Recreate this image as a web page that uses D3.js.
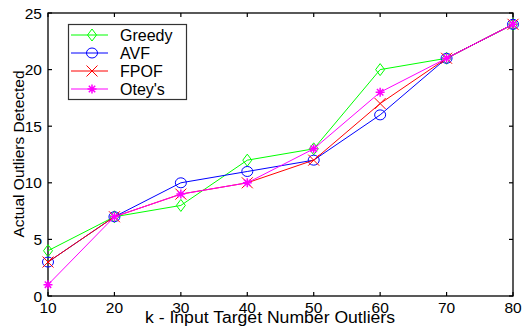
<!DOCTYPE html>
<html><head><meta charset="utf-8">
<script src="https://cdn.jsdelivr.net/npm/d3@7"></script>
<style>body{margin:0;background:#fff}svg{display:block}text{font-family:"Liberation Sans",Arial,sans-serif}</style>
</head><body>
<svg id="c" width="522" height="328"></svg>
<script>
const xValues = [10,20,30,40,50,60,70,80];
const greedy = [4,7,8,12,13,20,21,24];
const avf = [3,7,10,11,12,16,21,24];
const fpof = [3,7,9,10,12,17,21,24];
const otey = [1,7,9,10,13,18,21,24];
const seriesNames = ["Greedy","AVF","FPOF","Otey's"];
const seriesColors = ["#00ff00","#0000ff","#ff0000","#ff00ff"];
const seriesMarkers = ["diamond","circle","x","star"];
const xTicks = [10,20,30,40,50,60,70,80];
const yTicks = [0,5,10,15,20,25];
const xLabel = "k - Input Target Number Outliers";
const yLabel = "Actual Outliers Detected";

const svg = d3.select("#c");
const L=48, R=513, T=13, B=296;
const x = d3.scaleLinear().domain([10,80]).range([L,R]);
const y = d3.scaleLinear().domain([0,25]).range([B,T]);

svg.append("rect").attr("x",L).attr("y",T).attr("width",R-L).attr("height",B-T)
  .attr("fill","none").attr("stroke","#000").attr("stroke-width",1.3);

const tl=4;
const g = svg.append("g").attr("stroke","#000").attr("stroke-width",1.2);
xTicks.forEach(v=>{
  g.append("line").attr("x1",x(v)).attr("x2",x(v)).attr("y1",B).attr("y2",B-tl);
  g.append("line").attr("x1",x(v)).attr("x2",x(v)).attr("y1",T).attr("y2",T+tl);
});
yTicks.forEach(v=>{
  g.append("line").attr("x1",L).attr("x2",L+tl).attr("y1",y(v)).attr("y2",y(v));
  g.append("line").attr("x1",R).attr("x2",R-tl).attr("y1",y(v)).attr("y2",y(v));
});
svg.selectAll(".xt").data(xTicks).enter().append("text")
  .attr("x",d=>x(d)).attr("y",313).attr("text-anchor","middle")
  .attr("font-size",15.5).attr("fill","#000").text(d=>d);
svg.selectAll(".yt").data(yTicks).enter().append("text")
  .attr("x",42).attr("y",d=>y(d)+5.5).attr("text-anchor","end")
  .attr("font-size",15.5).attr("fill","#000").text(d=>d);

svg.append("text").attr("x",145).attr("y",323)
  .attr("font-size",16).attr("textLength",250).attr("lengthAdjust","spacingAndGlyphs")
  .attr("fill","#000").text(xLabel);
svg.append("text").attr("transform","translate(24,154) rotate(-90)").attr("text-anchor","middle")
  .attr("font-size",15.5).attr("fill","#000").text(yLabel);

function marker(sel, type, cx, cy, color){
  const m = sel.append("g").attr("transform",`translate(${cx},${cy})`)
    .attr("fill","none").attr("stroke",color).attr("stroke-width",1);
  if(type==="diamond") m.append("path").attr("d","M0,-6L4.5,0L0,6L-4.5,0Z");
  else if(type==="circle") m.append("ellipse").attr("rx",5.5).attr("ry",5);
  else if(type==="x") m.append("path").attr("d","M-5.5,-5.5L5.5,5.5M-5.5,5.5L5.5,-5.5");
  else if(type==="star") m.append("path").attr("d","M-4.5,0L4.5,0M0,-4.5L0,4.5M-3.2,-3.2L3.2,3.2M-3.2,3.2L3.2,-3.2").attr("stroke-width",1.5);
}

const allSeries=[greedy,avf,fpof,otey];
const line = d3.line().x((d,i)=>x(xValues[i])).y(d=>y(d));
allSeries.forEach((s,k)=>{
  svg.append("path").attr("d",line(s)).attr("fill","none").attr("stroke",seriesColors[k]).attr("stroke-width",1);
  s.forEach((v,i)=>marker(svg,seriesMarkers[k],x(xValues[i]),y(v),seriesColors[k]));
});

const lg = svg.append("g");
lg.append("rect").attr("x",68.5).attr("y",24.5).attr("width",118).attr("height",75)
  .attr("fill","#fff").attr("stroke","#333").attr("stroke-width",1.2);
const rowY=[35,53,71,89];
seriesNames.forEach((n,k)=>{
  lg.append("line").attr("x1",71).attr("x2",108).attr("y1",rowY[k]).attr("y2",rowY[k])
    .attr("stroke",seriesColors[k]).attr("stroke-width",1);
  marker(lg,seriesMarkers[k],92,rowY[k],seriesColors[k]);
  lg.append("text").attr("x",120).attr("y",rowY[k]+5.5).attr("font-size",16).attr("fill","#000").text(n);
});
</script>
</body></html>
